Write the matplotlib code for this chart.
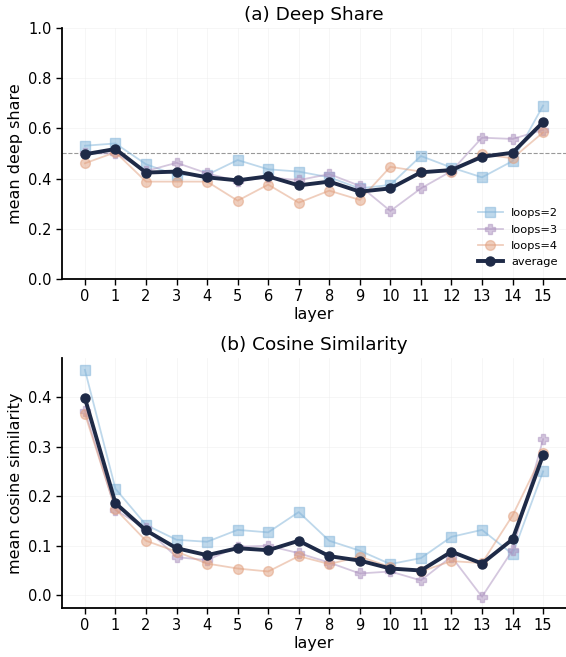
import matplotlib
matplotlib.use("Agg")
import matplotlib.pyplot as plt

layers = list(range(16))

# (a) mean deep share per layer
deep_loops2 = [0.531, 0.540, 0.457, 0.414, 0.415, 0.474, 0.437, 0.428, 0.405, 0.361, 0.375, 0.490, 0.444, 0.405, 0.470, 0.691]
deep_loops3 = [0.500, 0.501, 0.430, 0.463, 0.421, 0.390, 0.405, 0.394, 0.418, 0.371, 0.271, 0.361, 0.430, 0.563, 0.558, 0.594]
deep_loops4 = [0.461, 0.505, 0.388, 0.388, 0.388, 0.312, 0.376, 0.304, 0.352, 0.315, 0.447, 0.428, 0.428, 0.497, 0.481, 0.584]
deep_avg    = [0.497, 0.518, 0.424, 0.428, 0.405, 0.393, 0.409, 0.373, 0.388, 0.348, 0.361, 0.425, 0.434, 0.487, 0.503, 0.625]

# (b) mean cosine similarity per layer
cos_loops2 = [0.455, 0.215, 0.142, 0.112, 0.108, 0.132, 0.127, 0.168, 0.110, 0.090, 0.063, 0.075, 0.118, 0.132, 0.083, 0.250]
cos_loops3 = [0.373, 0.172, 0.135, 0.077, 0.071, 0.098, 0.100, 0.085, 0.066, 0.044, 0.048, 0.030, 0.078, -0.003, 0.091, 0.315]
cos_loops4 = [0.366, 0.174, 0.110, 0.088, 0.064, 0.054, 0.048, 0.079, 0.063, 0.078, 0.057, 0.048, 0.069, 0.065, 0.161, 0.287]
cos_avg    = [0.398, 0.186, 0.131, 0.095, 0.081, 0.095, 0.091, 0.110, 0.079, 0.070, 0.054, 0.050, 0.088, 0.064, 0.113, 0.283]

series_labels = ["loops=2", "loops=3", "loops=4"]
series_colors = ["#7fb2d8", "#ab90be", "#e19e7c"]
series_markers = ["s", "P", "o"]
avg_color = "#1e2a47"

fig = plt.figure(figsize=(5.66, 6.57), dpi=100)
ax1 = fig.add_axes([62 / 566, 1 - 279 / 657, (566 - 62) / 566, (279 - 28) / 657])
ax2 = fig.add_axes([62 / 566, 1 - 608 / 657, (566 - 62) / 566, (608 - 358) / 657])


def draw_panel(ax, loops, avg):
    for vals, lab, col, mk in zip(loops, series_labels, series_colors, series_markers):
        ax.plot(layers, vals, color=col, marker=mk, markersize=7, linewidth=1.3,
                alpha=0.5, label=lab, zorder=2)
    ax.plot(layers, avg, color=avg_color, marker="o", markersize=6.5, linewidth=2.8,
            label="average", zorder=3)
    ax.set_xticks(layers)
    ax.set_xlim(-0.75, 15.75)
    ax.grid(True, color="#eeeeee", linewidth=0.6, alpha=0.6)
    ax.set_axisbelow(True)
    for side in ("top", "right"):
        ax.spines[side].set_visible(False)
    for side in ("left", "bottom"):
        ax.spines[side].set_linewidth(1.3)
    ax.tick_params(labelsize=10.5, width=1.0, length=4)
    ax.set_xlabel("layer", fontsize=11.5, labelpad=2)


draw_panel(ax1, [deep_loops2, deep_loops3, deep_loops4], deep_avg)
ax1.axhline(0.5, color="#999999", linestyle="--", linewidth=0.8, zorder=1)
ax1.set_ylim(0.0, 1.0)
ax1.set_yticks([0.0, 0.2, 0.4, 0.6, 0.8, 1.0])
ax1.set_ylabel("mean deep share", fontsize=11.5)
ax1.set_title("(a) Deep Share", fontsize=13.3, pad=6)
ax1.legend(loc="lower right", frameon=False, fontsize=8.2, handlelength=2.2,
           borderaxespad=0.3, labelspacing=0.55, handletextpad=0.7,
           bbox_to_anchor=(1.0, 0.015))

draw_panel(ax2, [cos_loops2, cos_loops3, cos_loops4], cos_avg)
ax2.set_ylim(-0.0257, 0.479)
ax2.set_yticks([0.0, 0.1, 0.2, 0.3, 0.4])
ax2.set_ylabel("mean cosine similarity", fontsize=11.5)
ax2.set_title("(b) Cosine Similarity", fontsize=13.3, pad=6)

fig.savefig("out.png", dpi=100)
